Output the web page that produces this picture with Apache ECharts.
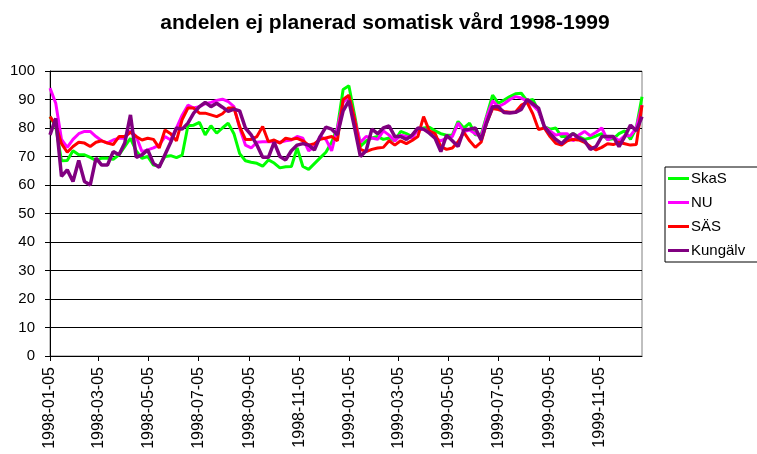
<!DOCTYPE html>
<html>
<head>
<meta charset="utf-8">
<script src="https://cdn.jsdelivr.net/npm/echarts@6/dist/echarts.min.js"></script>
<style>
html, body { margin: 0; padding: 0; background: #fff; }
#main { width: 757px; height: 454px; }
</style>
</head>
<body>
<div id="main"></div>
<script>
// weekly data, first week 1998-01-05
var firstWeek = [1998, 0, 5];
var tickDates = ['1998-01-05', '1998-03-05', '1998-05-05', '1998-07-05', '1998-09-05', '1998-11-05',
	'1999-01-05', '1999-03-05', '1999-05-05', '1999-07-05', '1999-09-05', '1999-11-05'];
var seriesNames = ['SkaS', 'NU', 'SÄS', 'Kungälv'];

var skas = [84, 80.5, 68.5, 68.6, 72, 70.6, 70.6, 69.7, 68.6, 69.4, 69.4, 69, 70.6, 73.5, 76.4, 72, 69.4, 70, 67, 66.7,
	70, 70.3, 69.6, 70.5, 80.8, 81, 82, 77.6, 80.8, 78.2, 80, 81.7, 78, 71, 68.5, 68, 67.6, 66.6, 68.8, 67.7, 66, 66.4, 66.5,
	73, 66.5, 65.5, 67.5, 69.5, 71.5, 75, 80, 93.5, 94.8, 84.5, 73.5, 75.5, 76.5, 77, 76, 76.5, 75.5, 78.8,
	78, 77, 79.2, 80, 80.3, 79, 78, 77.5, 77.5, 82.3, 80, 81.7, 77.6, 77.6, 84.5, 91.5, 88.7, 89.8, 91, 92, 92.2, 89.5,
	90, 86, 80.5, 79.6, 80, 77, 77, 78, 77, 76, 76.5, 77.2, 78, 76, 76.2, 78, 79, 76, 80, 91];

var nu = [94, 88.7, 76, 73.2, 76, 78, 78.8, 78.8, 77, 75.5, 74.8, 75.8, 76.4, 76.4, 79, 77, 71.7, 72.3, 73, 74,
	77, 75.8, 80, 84.5, 88, 87, 87.5, 88.5, 89, 89.7, 90.1, 89.3, 87.5, 80, 74, 73, 75, 75.2, 75.2, 75.2, 75, 75.5, 75.8,
	77, 76.4, 72, 73.5, 77, 76, 72, 80, 89, 91, 83, 75, 77, 76.5, 76, 79, 77.5, 75.5, 77.5,
	77, 76.5, 79.3, 79.6, 78.5, 76.5, 75.5, 76.5, 77, 81.7, 78.8, 79.3, 78, 77, 84, 89.5, 87.5, 88.5, 90, 91, 90.5, 89.5,
	88, 86, 80.5, 79, 77.5, 78, 78, 75.5, 77.5, 78.8, 77.3, 78.5, 80, 75.8, 77, 75.5, 77.3, 77.3, 80, 88];

var sas = [84, 81, 74.5, 71.5, 73.5, 75, 74.7, 73.5, 75, 75.5, 74.7, 74.2, 77, 77, 78.5, 77, 75.8, 76.4, 76, 73,
	79.3, 78, 75.5, 83, 87, 87, 85.2, 85.2, 84.6, 84, 85, 87, 87, 80.5, 76, 76, 77, 80.5, 75.2, 75.8, 74.7, 76.4, 76,
	76.4, 75.5, 74, 74.5, 76, 76.5, 77, 75.5, 90, 91.5, 83, 72.5, 71.7, 72.5, 73, 73.2, 75.5, 74, 75.5,
	74.5, 75.6, 77, 84, 79, 78, 73.5, 72.5, 73, 75.2, 78.5, 75.5, 73.2, 75, 82, 86.8, 86.5, 85.8, 85.5, 85.6, 88, 89,
	85, 79.5, 80, 77, 74.6, 74, 75.5, 76, 75.8, 75, 73.5, 72.3, 73.2, 74.5, 74.2, 75, 74.5, 74, 74.2, 88];

var kungalv = [77.6, 83.4, 63, 65.3, 61.2, 68.6, 61.2, 60, 69.4, 67, 67, 71.7, 70.6, 74.7, 84.6, 69.7, 70.6, 72.3, 67.6, 66.2,
	70.6, 75, 80, 79.6, 81.7, 85.2, 87.5, 89, 87.5, 88.7, 87.3, 85.8, 86.6, 86, 80, 77.6, 74, 69.7, 69.7, 75, 70, 68.8, 72,
	74, 74.5, 74, 72.3, 77, 80.3, 79.6, 77.6, 86, 89.5, 80, 70, 72, 79.6, 78, 80, 80.7, 77, 77,
	76, 77.5, 80, 79.6, 78.2, 76.4, 71.7, 77.5, 75.5, 73.5, 79.3, 79.6, 80, 75.8, 82, 87.5, 87.5, 85.4, 85.3, 85.5, 86.5, 90,
	88.5, 87, 80.5, 78, 76, 74.5, 76.5, 78, 76.5, 75.5, 72.5, 73.5, 77, 77, 77, 73.5, 77, 81, 79, 84];

var colors = ['#00ff00', '#ff00ff', '#ff0000', '#800080'];

function weekTime(i) {
	return +new Date(firstWeek[0], firstWeek[1], firstWeek[2] + 7 * i);
}
function toTime(s) {
	var p = s.split('-');
	return +new Date(+p[0], +p[1] - 1, +p[2]);
}
function pairs(vals) {
	return vals.map(function (v, i) { return [weekTime(i), v]; });
}
function pad(n) { return n < 10 ? '0' + n : '' + n; }

var chart = echarts.init(document.getElementById('main'));
var allData = [skas, nu, sas, kungalv];
var tickTimes = tickDates.map(toTime);

chart.setOption({
	animation: false,
	backgroundColor: '#fff',
	textStyle: { fontFamily: 'Liberation Sans, Arial, sans-serif', color: '#000' },
	title: {
		text: 'andelen ej planerad somatisk vård 1998-1999',
		left: 380, textAlign: 'center', top: 8,
		textStyle: { fontSize: 21, fontWeight: 'bold', color: '#000', fontFamily: 'Liberation Sans, Arial, sans-serif' }
	},
	legend: {
		orient: 'vertical',
		left: 665, top: 167,
		data: seriesNames,
		icon: 'rect',
		itemWidth: 21, itemHeight: 3,
		itemGap: 9,
		padding: [4, 20, 4, 3],
		borderColor: '#000', borderWidth: 1,
		textStyle: { fontSize: 15, color: '#000', padding: [0, 0, 0, -3] }
	},
	grid: {
		left: 50, right: 115, top: 71, bottom: 98,
		show: true, borderColor: '#808080', borderWidth: 1, backgroundColor: '#fff'
	},
	xAxis: {
		type: 'value',
		min: weekTime(0),
		max: weekTime(skas.length - 1),
		axisLine: { lineStyle: { color: '#000', width: 1 } },
		axisTick: { show: true, length: 5, lineStyle: { color: '#000' }, customValues: tickTimes },
		splitLine: { show: false },
		axisLabel: {
			rotate: 90, fontSize: 16, color: '#000', margin: 11,
			customValues: tickTimes,
			formatter: function (v) {
				var d = new Date(v);
				return d.getFullYear() + '-' + pad(d.getMonth() + 1) + '-' + pad(d.getDate());
			}
		}
	},
	yAxis: {
		type: 'value', min: 0, max: 100, interval: 10,
		axisLine: { show: true, lineStyle: { color: '#000', width: 1 } },
		axisTick: { show: true, length: 5, lineStyle: { color: '#000' } },
		splitLine: { show: true, lineStyle: { color: '#000', width: 1 } },
		axisLabel: { fontSize: 15, color: '#000', margin: 15 }
	},
	series: seriesNames.map(function (name, k) {
		return {
			name: name, type: 'line', symbol: 'none',
			data: pairs(allData[k]),
			color: colors[k],
			lineStyle: { color: colors[k], width: k === 3 ? 3.5 : 3 }
		};
	})
});
</script>
</body>
</html>
